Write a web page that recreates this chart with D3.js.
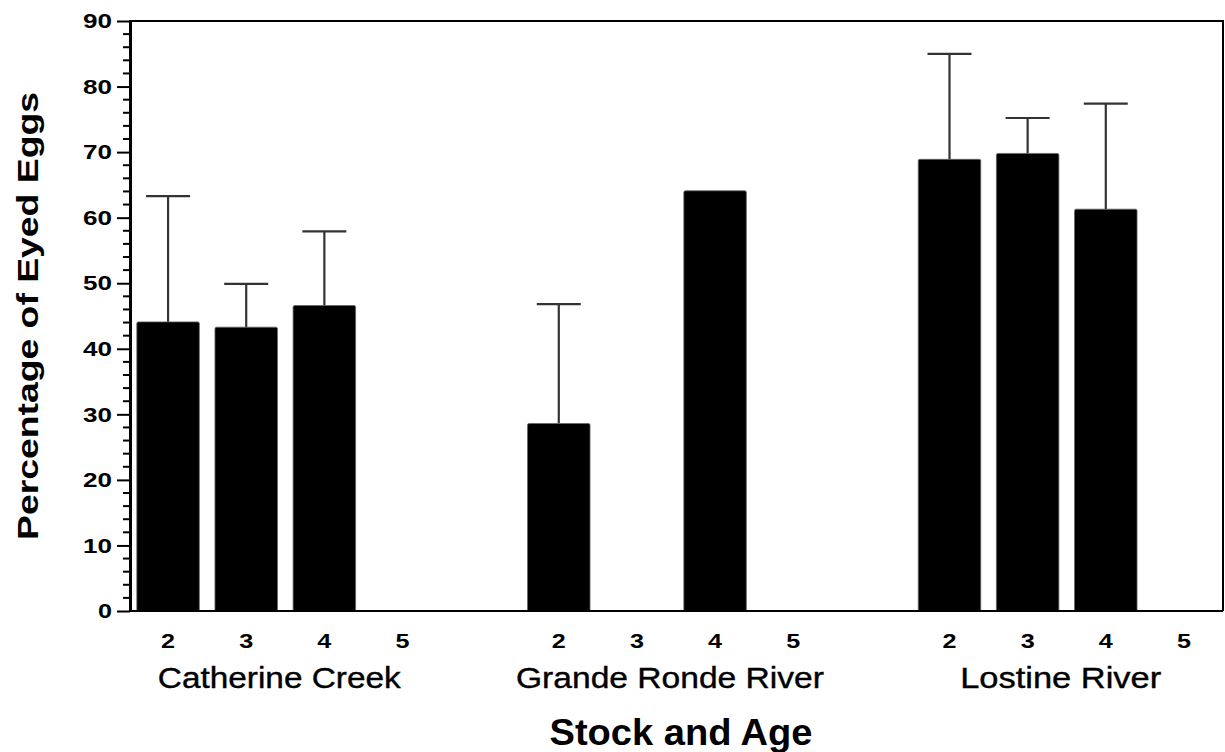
<!DOCTYPE html>
<html><head><meta charset="utf-8">
<script src="https://cdn.jsdelivr.net/npm/d3@7"></script>
<style>body{margin:0;background:#fff}svg{display:block}</style>
</head><body>
<svg id="c" width="1225" height="752"></svg>
<script>
const stocks = ["Catherine Creek", "Grande Ronde River", "Lostine River"];
const ages = ["2", "3", "4", "5"];
// mean percentage of eyed eggs per stock (rows) and age (columns); null = no data
const means = [
  [44.1, 43.3, 46.6, null],
  [28.6, null, 64.1, null],
  [68.9, 69.8, 61.3, null]
];
// upper end of error bar
const uppers = [
  [63.3, 49.9, 57.9, null],
  [46.8, null, null, null],
  [85.0, 75.2, 77.4, null]
];
const yTicks = [0, 10, 20, 30, 40, 50, 60, 70, 80, 90];
const yTitle = "Percentage of Eyed Eggs";
const xTitle = "Stock and Age";

const svg = d3.select("#c");
const font = "'Liberation Sans', Arial, sans-serif";
const mLeft = 130, mRight = 1223, mTop = 21, mBottom = 611;

// slot keys: 4 ages per stock with one empty slot between stocks
const keys = [];
stocks.forEach((s, i) => {
  ages.forEach(a => keys.push(s + "|" + a));
  if (i < stocks.length - 1) keys.push("gap" + i);
});
const x = d3.scaleBand().domain(keys).range([129, 1223]).paddingInner(0.2).paddingOuter(0.1);
const y = d3.scaleLinear().domain([0, 90]).range([mBottom, mTop]);

const rows = [];
stocks.forEach((s, i) => ages.forEach((a, j) => rows.push({stock: s, age: a, key: s + "|" + a, v: means[i][j], u: uppers[i][j]})));

// error bars (behind bars)
const eb = svg.append("g").attr("stroke", "#333").attr("stroke-width", 2.2);
rows.filter(d => d.v != null && d.u != null).forEach(d => {
  const cx = x(d.key) + x.bandwidth() / 2;
  eb.append("line").attr("x1", cx).attr("x2", cx).attr("y1", y(d.v)).attr("y2", y(d.u));
  eb.append("line").attr("x1", cx - 22).attr("x2", cx + 22).attr("y1", y(d.u)).attr("y2", y(d.u));
});

// bars
svg.append("g").selectAll("rect").data(rows.filter(d => d.v != null)).join("rect")
  .attr("x", d => x(d.key)).attr("width", x.bandwidth())
  .attr("y", d => y(d.v)).attr("height", d => y(0) - y(d.v))
  .attr("fill", "#000").attr("stroke", "#666").attr("stroke-width", 0.8).attr("rx", 1.5);

// frame
svg.append("path").attr("d", `M${mLeft},${mTop}H${mRight}V${mBottom}`).attr("fill", "none").attr("stroke", "#000").attr("stroke-width", 2);
svg.append("line").attr("x1", mLeft - 1).attr("x2", mRight).attr("y1", mBottom).attr("y2", mBottom).attr("stroke", "#000").attr("stroke-width", 2);

// y axis
const yAxis = d3.axisLeft(y).tickValues(yTicks).tickSize(13).tickPadding(5).tickFormat(d3.format("d"));
const gy = svg.append("g").attr("transform", `translate(${mLeft},0)`).call(yAxis);
gy.select(".domain").attr("stroke-width", 3).attr("d", `M0.5,${mBottom + 1}V${mTop - 1}`);
gy.selectAll(".tick line").attr("stroke-width", 2);
gy.selectAll(".tick text").attr("font-family", font).attr("font-weight", "bold").attr("font-size", 21).attr("fill", "#000")
  .attr("textLength", d => d >= 10 ? 29 : 14).attr("lengthAdjust", "spacingAndGlyphs");
const minor = d3.range(0, 91, 2).filter(v => v % 10 !== 0);
svg.append("g").selectAll("line").data(minor).join("line")
  .attr("x1", mLeft - 7).attr("x2", mLeft).attr("y1", d => y(d)).attr("y2", d => y(d))
  .attr("stroke", "#000").attr("stroke-width", 2);

// x labels: ages
svg.append("g").selectAll("text").data(rows).join("text")
  .attr("x", d => x(d.key) + x.bandwidth() / 2).attr("y", 648)
  .attr("text-anchor", "middle").attr("font-family", font).attr("font-weight", "bold").attr("font-size", 21)
  .attr("textLength", 14).attr("lengthAdjust", "spacingAndGlyphs")
  .text(d => d.age);

// stock labels
const catLens = [243, 308, 201];
svg.append("g").selectAll("text").data(stocks).join("text")
  .attr("x", (s, i) => (x(s + "|2") + x(s + "|5") + x.bandwidth()) / 2 - 6)
  .attr("y", 688)
  .attr("text-anchor", "middle").attr("font-family", font).attr("font-size", 30)
  .attr("stroke", "#000").attr("stroke-width", 0.4)
  .attr("textLength", (s, i) => catLens[i]).attr("lengthAdjust", "spacingAndGlyphs")
  .text(s => s);

// axis titles
svg.append("text").attr("x", 681).attr("y", 745).attr("text-anchor", "middle")
  .attr("font-family", font).attr("font-weight", "bold").attr("font-size", 36)
  .attr("textLength", 263).attr("lengthAdjust", "spacingAndGlyphs").text(xTitle);
svg.append("text").attr("transform", "translate(38,316) rotate(-90)").attr("text-anchor", "middle")
  .attr("font-family", font).attr("font-weight", "bold").attr("font-size", 30)
  .attr("textLength", 448).attr("lengthAdjust", "spacingAndGlyphs").text(yTitle);
</script>
</body></html>
